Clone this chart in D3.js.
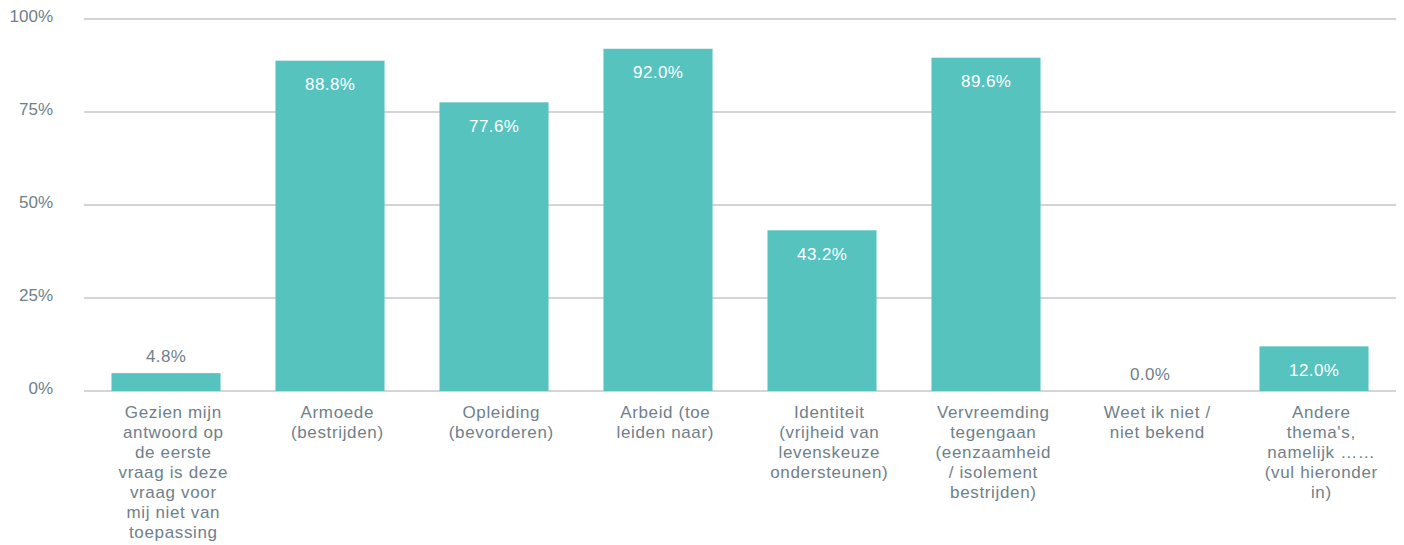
<!DOCTYPE html>
<html><head><meta charset="utf-8">
<script src="https://cdn.jsdelivr.net/npm/d3@7"></script>
<style>body{margin:0;background:#fff;}svg{display:block;font-family:"Liberation Sans",Arial,Helvetica,sans-serif;}</style>
</head><body><svg id="c" width="1404" height="545"></svg>
<script>
const categories = [
  "Gezien mijn\nantwoord op\nde eerste\nvraag is deze\nvraag voor\nmij niet van\ntoepassing",
  "Armoede\n(bestrijden)",
  "Opleiding\n(bevorderen)",
  "Arbeid (toe\nleiden naar)",
  "Identiteit\n(vrijheid van\nlevenskeuze\nondersteunen)",
  "Vervreemding\ntegengaan\n(eenzaamheid\n/ isolement\nbestrijden)",
  "Weet ik niet /\nniet bekend",
  "Andere\nthema's,\nnamelijk ……\n(vul hieronder\nin)"
];
const values = [4.8, 88.8, 77.6, 92.0, 43.2, 89.6, 0.0, 12.0];
const yTicks = [0, 25, 50, 75, 100];

(function () {
const svg = d3.select("#c");
const mLeft = 84, mRight = 1396, mTop = 19, mBottom = 391;
const x = d3.scaleBand().domain(categories).range([mLeft, mRight]).paddingInner(0.335).paddingOuter(0.1675);
const y = d3.scaleLinear().domain([0, 100]).range([mBottom, mTop]);
const axisColor = "#6f7f8b";
const fs = 17, ls = 0.4, cls = 0.65;

svg.append("g").selectAll("line").data(yTicks).join("line")
  .attr("x1", mLeft).attr("x2", mRight)
  .attr("y1", d => y(d)).attr("y2", d => y(d))
  .attr("stroke", "#d5d5d5").attr("stroke-width", 2);

svg.append("g").selectAll("text").data(yTicks).join("text")
  .attr("x", 53).attr("y", d => y(d) + 2.5)
  .attr("text-anchor", "end").attr("font-size", fs).attr("fill", axisColor)
  .text(d => d + "%");

svg.append("g").selectAll("rect").data(values).join("rect")
  .attr("x", (d, i) => x(categories[i]))
  .attr("width", x.bandwidth())
  .attr("y", d => y(d))
  .attr("height", d => mBottom - y(d))
  .attr("fill", "#57c3bf");

svg.append("g").selectAll("text").data(values).join("text")
  .attr("x", (d, i) => x(categories[i]) + x.bandwidth() / 2 + ls / 2)
  .attr("y", d => (mBottom - y(d) > 35) ? y(d) + 29.5 : y(d) - 11)
  .attr("text-anchor", "middle").attr("font-size", fs).attr("letter-spacing", ls)
  .attr("fill", d => (mBottom - y(d) > 35) ? "#ffffff" : axisColor)
  .text(d => d.toFixed(1) + "%");

const cg = svg.append("g");
categories.forEach((c, i) => {
  const cx = x(c) + x.bandwidth() / 2 + 7 + cls / 2;
  const t = cg.append("text")
    .attr("x", cx).attr("y", 418)
    .attr("text-anchor", "middle").attr("font-size", fs).attr("letter-spacing", cls).attr("fill", axisColor);
  c.split("\n").forEach((line, j) => {
    t.append("tspan").attr("x", cx).attr("y", 418 + j * 20).text(line);
  });
});
})();
</script></body></html>
